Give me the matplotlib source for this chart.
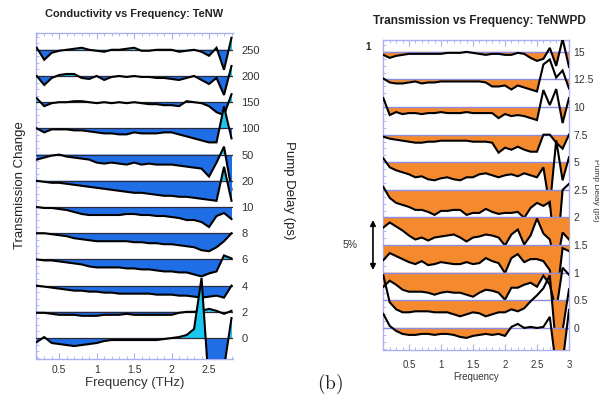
import numpy as np
import matplotlib
matplotlib.use('Agg')
import matplotlib.pyplot as plt
from matplotlib.ticker import MultipleLocator, FixedLocator, AutoMinorLocator
from matplotlib.transforms import blended_transform_factory

plt.rcParams['font.family'] = ['Liberation Sans', 'DejaVu Sans']
plt.rcParams['mathtext.fontset'] = 'cm'

# ---------------- Left panel data: Conductivity vs Frequency (TeNW) ----------------
left_freq = [0.2, 0.3, 0.4, 0.5, 0.6, 0.7, 0.8, 0.9, 1.0, 1.1, 1.2, 1.3, 1.4,
             1.5, 1.6, 1.7, 1.8, 1.9, 2.0, 2.1, 2.2, 2.3, 2.4, 2.5, 2.6, 2.7, 2.8]
left_delays = ['0', '2', '4', '6', '8', '10', '20', '50', '100', '150', '200', '250']
# transmission change (arbitrary units), one list per pump delay
c0 = [-4, 1, -5, -6, -7, -8, -7, -6, -5, -3, -2, -2, -2, -2, -2, -2, -2, -1, 0, 1, 3, 9, 60, -50, -50, -30, 20]
c2 = [-1, -1, -2, -3, -3, -3, -4, -4, -4, -3, -3, -3, -2, -3, -3, -3, -3, -3, -3, -1, 0, 0, 1, 3, 1, -2, 1]
c4 = [0, -1, -2, -3, -4, -5, -5, -6, -6, -7, -7, -8, -8, -8, -8, -8, -9, -9, -9, -10, -10, -11, -12, -11, -10, -12, 0]
c6 = [0, -1, -1, -2, -3, -4, -5, -7, -8, -8, -8, -8, -9, -9, -10, -10, -11, -12, -12, -13, -13, -15, -17, -14, -12, 4, 1]
c8 = [0, 0, -1, -2, -3, -5, -6, -7, -8, -8, -8, -8, -8, -9, -9, -10, -10, -11, -11, -12, -13, -14, -17, -18, -14, -8, 0]
c10 = [0, -1, -1, -2, -3, -5, -7, -8, -8, -8, -8, -8, -7, -7, -8, -8, -9, -9, -10, -11, -13, -13, -15, -20, -9, -6, -12]
c20 = [0, -1, -2, -2, -3, -4, -5, -6, -7, -8, -9, -10, -11, -12, -12, -13, -14, -15, -15, -16, -16, -17, -18, -19, -20, 14, -20]
c50 = [-5, -3, -1, 0, -2, -3, -4, -5, -8, -9, -8, -9, -10, -8, -10, -9, -10, -10, -10, -11, -12, -13, -14, -22, -8, 8, -35]
c100 = [0, -4, -1, -1, -1, -2, -2, -3, -4, -5, -5, -6, -6, -4, -5, -5, -5, -4, -4, -6, -8, -10, -12, -14, -14, 22, -10]
c150 = [4, -4, -1, 0, 0, 1, 1, 0, -1, 0, -1, 0, -1, 0, -1, -2, -2, -3, -3, -4, 1, 0, -1, -4, -10, -13, 8]
c200 = [0, -9, -2, 1, 2, 2, -2, -3, 0, -4, -1, 0, -1, 0, -1, -1, -2, -2, -3, -4, -2, 0, -4, -8, -2, -19, 10]
c250 = [2, -10, -3, -1, 0, 1, 2, 0, -1, -2, 0, 0, 1, 2, -1, -1, 0, 0, 0, -2, -1, 0, -2, -6, 2, -20, 12]
left_series = [c0, c2, c4, c6, c8, c10, c20, c50, c100, c150, c200, c250]
left_xticks = [0.5, 1, 1.5, 2, 2.5]
left_xticklabels = ['0.5', '1', '1.5', '2', '2.5']

# ---------------- Right panel data: Transmission vs Frequency (TeNWPD) ----------------
right_freq = [0.1, 0.2, 0.3, 0.4, 0.5, 0.6, 0.7, 0.8, 0.9, 1.0, 1.1, 1.2, 1.3, 1.4, 1.5,
              1.6, 1.7, 1.8, 1.9, 2.0, 2.1, 2.2, 2.3, 2.4, 2.5, 2.6, 2.7, 2.8, 2.9, 3.0]
right_delays = ['0', '0.5', '1', '1.5', '2', '2.5', '5', '7.5', '10', '12.5', '15']
# transmission change in units of 0.1 %
t0 = [14, 2, -3, -6, -7, -7, -6, -6, -7, -6, -6, -7, -9, -10, -8, -7, -6, -7, -6, -8, 1, 4, 0, 1, 0, 1, 11, -40, -35, 18]
t0_5 = [25, -2, -9, -12, -12, -11, -11, -11, -12, -12, -12, -14, -16, -14, -12, -13, -16, -14, -12, -12, -9, -11, -8, -1, 5, 12, 25, -49, -30, 11]
t1 = [-14, -8, -12, -17, -19, -19, -19, -20, -22, -20, -19, -20, -20, -22, -24, -20, -17, -18, -20, -27, -15, -15, -12, -10, -14, -3, -12, -38, 5, -2]
t1_5 = [-15, -8, -11, -14, -17, -19, -16, -20, -19, -17, -18, -19, -19, -17, -19, -18, -13, -16, -18, -28, -13, -9, -17, -14, -14, -16, -25, -56, -3, -6]
t2 = [-10, -5, -9, -13, -18, -22, -20, -23, -20, -19, -18, -17, -20, -24, -20, -19, -17, -18, -20, -28, -17, -12, -27, -18, -1, -16, -22, -50, -15, -22]
t2_5 = [3, -8, -13, -15, -17, -20, -20, -22, -25, -21, -21, -20, -20, -25, -23, -23, -19, -22, -24, -23, -23, -22, -28, -18, -13, -16, -12, -76, 0, 6]
t5 = [4, -5, -8, -10, -12, -15, -14, -17, -18, -16, -15, -17, -18, -15, -15, -12, -11, -13, -15, -13, -12, -14, -11, -13, -15, -5, -45, 22, -18, 5]
t7_5 = [-2, -4, -5, -6, -7, -8, -8, -7, -7, -6, -6, -6, -6, -6, -7, -7, -7, -8, -18, -13, -15, -12, -15, -17, -17, 0, 0, -8, -14, 0]
t10 = [9, -8, -5, -7, -6, -6, -7, -6, -6, -5, -6, -6, -6, -5, -6, -6, -6, -6, -11, -7, -9, -8, -9, -11, -13, 17, 2, 18, -16, 9]
t12_5 = [1, -3, -4, -4, -3, -2, -4, -3, -3, -2, -2, -2, -2, -2, -2, -2, -3, -7, -7, -6, -10, -6, -8, -10, -12, 15, 20, 2, 9, -9]
t15 = [-3, -6, -4, -3, -2, -2, -2, -2, -2, -2, -1, -1, -1, 0, -1, -2, -3, -2, -2, -3, -3, -1, -2, -6, -9, -7, 4, -14, 13, -15]
right_series = [t0, t0_5, t1, t1_5, t2, t2_5, t5, t7_5, t10, t12_5, t15]
right_xticks = [0.5, 1, 1.5, 2, 2.5, 3]
right_xticklabels = ['0.5', '1', '1.5', '2', '2.5', '3']
scale_bar_pct = 5

# ---------------- styling ----------------
blue = '#1f6ee6'
cyan = '#1cc6ee'
orange = '#f5892e'
spine_col = '#aab0f0'
base_col_R = '#8c8ce0'
sL = 1 / 26.2            # left: trace spacing fraction per unit
sR = 1 / 27.6            # right: trace spacing fraction per 0.1 %

fig = plt.figure(figsize=(5.99, 4.0), dpi=100)

# ---- Left axes
axL = fig.add_axes([36 / 599, 41 / 400, 197 / 599, 326 / 400])
xL = np.array(left_freq)
n = len(left_series)
for i, vals in enumerate(left_series):
    y = i + np.array(vals) * sL
    z = 10 + (n - i) * 4
    axL.fill_between(xL, i, y, where=y <= i, interpolate=True, color=blue, lw=0, zorder=z)
    axL.fill_between(xL, i, y, where=y >= i, interpolate=True, color=cyan, lw=0, zorder=z)
    axL.axhline(i, color='#2a2a3a', lw=0.9, zorder=z + 1)
    axL.plot(xL, y, color='black', lw=1.5, zorder=z + 2, solid_joinstyle='miter')
axL.set_xlim(0.19, 2.82)
axL.set_ylim(-0.8, 11.64)
axL.xaxis.set_major_locator(FixedLocator(left_xticks))
axL.set_xticklabels(left_xticklabels)
axL.xaxis.set_minor_locator(MultipleLocator(0.1))
axL.yaxis.set_major_locator(FixedLocator(range(n)))
axL.set_yticklabels(left_delays)
axL.yaxis.set_minor_locator(AutoMinorLocator(4))
axL.tick_params(axis='x', which='both', direction='in', top=True, bottom=True,
                color=spine_col, labelsize=7.5, labelcolor='#333333', pad=4)
axL.tick_params(axis='x', which='major', length=4)
axL.tick_params(axis='x', which='minor', length=2.5)
axL.tick_params(axis='y', which='both', direction='in', left=True, right=False,
                labelleft=False, labelright=True, color=spine_col, labelsize=8,
                labelcolor='#333333', pad=6)
axL.tick_params(axis='y', which='major', length=4)
axL.tick_params(axis='y', which='minor', length=2.5)
for sp in axL.spines.values():
    sp.set_color(spine_col)
    sp.set_linewidth(1.0)
axL.spines['right'].set_visible(False)
axL.set_xlabel('Frequency (THz)', fontsize=9.5, color='#333333', labelpad=2)

fig.text(134 / 599, 1 - 14 / 400, 'Conductivity vs Frequency: TeNW', fontsize=7.9,
         fontweight='bold', ha='center', va='center', color='#222222')
fig.text(20 / 599, 1 - 185 / 400, 'Transmission Change', fontsize=9.5, rotation=90,
         ha='center', va='center', color='#222222')
fig.text(289 / 599, 1 - 190 / 400, 'Pump Delay (ps)', fontsize=9.5, rotation=270,
         ha='center', va='center', color='#222222')

# ---- Right axes
axR = fig.add_axes([383 / 599, 50 / 400, 186 / 599, 310 / 400])
xR = np.array(right_freq)
m = len(right_series)
for i, vals in enumerate(right_series):
    y = i + np.array(vals) * sR
    z = 10 + (m - i) * 4
    axR.fill_between(xR, i, y, where=y <= i, interpolate=True, color=orange, lw=0, zorder=z)
    axR.axhline(i, color=base_col_R, lw=1.0, zorder=z + 1)
    axR.plot(xR, y, color='black', lw=1.5, zorder=z + 2, solid_joinstyle='miter')
axR.set_xlim(0.095, 3.0)
axR.set_ylim(-0.8, 10.43)
axR.xaxis.set_major_locator(FixedLocator(right_xticks))
axR.set_xticklabels(right_xticklabels)
axR.xaxis.set_minor_locator(MultipleLocator(0.1))
axR.yaxis.set_major_locator(FixedLocator(range(m)))
axR.set_yticklabels(right_delays)
axR.yaxis.set_minor_locator(AutoMinorLocator(4))
axR.tick_params(axis='x', which='both', direction='in', top=True, bottom=True,
                color=spine_col, labelsize=7, labelcolor='#333333', pad=7)
axR.tick_params(axis='x', which='major', length=4)
axR.tick_params(axis='x', which='minor', length=2.5)
axR.tick_params(axis='y', which='both', direction='in', left=True, right=False,
                labelleft=False, labelright=True, color=spine_col, labelsize=7.5,
                labelcolor='#333333', pad=3)
axR.tick_params(axis='y', which='major', length=4)
axR.tick_params(axis='y', which='minor', length=2.5)
for sp in axR.spines.values():
    sp.set_color(spine_col)
    sp.set_linewidth(1.0)
axR.set_xlabel('Frequency', fontsize=7, color='#333333', labelpad=2)

# 5 % scale bar, drawn in data units of the right panel
bar_top = 3.91
bar_bot = bar_top - scale_bar_pct * 10 * sR
trans = blended_transform_factory(axR.transAxes, axR.transData)
axR.annotate('', xy=(-0.054, bar_top), xytext=(-0.054, bar_bot), xycoords=trans,
             textcoords=trans, annotation_clip=False,
             arrowprops=dict(arrowstyle='<|-|>', color='black', lw=1.2,
                             mutation_scale=8, shrinkA=0, shrinkB=0))
axR.text(-0.175, (bar_top + bar_bot) / 2, '5%', transform=trans, fontsize=7.5,
         ha='center', va='center', color='#333333', clip_on=False)

fig.text(479 / 599, 1 - 21 / 400, 'Transmission vs Frequency: TeNWPD', fontsize=8.6,
         fontweight='bold', ha='center', va='center', color='#222222')
fig.text(368 / 599, 1 - 47 / 400, '1', fontsize=7, fontweight='bold',
         ha='center', va='center', color='#222222')
fig.text(596 / 599, 1 - 190 / 400, 'Pump Delay (ps)', fontsize=6, rotation=270,
         ha='center', va='center', color='#333333')
fig.text(330 / 599, 1 - 384 / 400, r'$\mathrm{(b)}$', fontsize=14,
         ha='center', va='center', color='#222222')

fig.savefig('out.png', dpi=100)
